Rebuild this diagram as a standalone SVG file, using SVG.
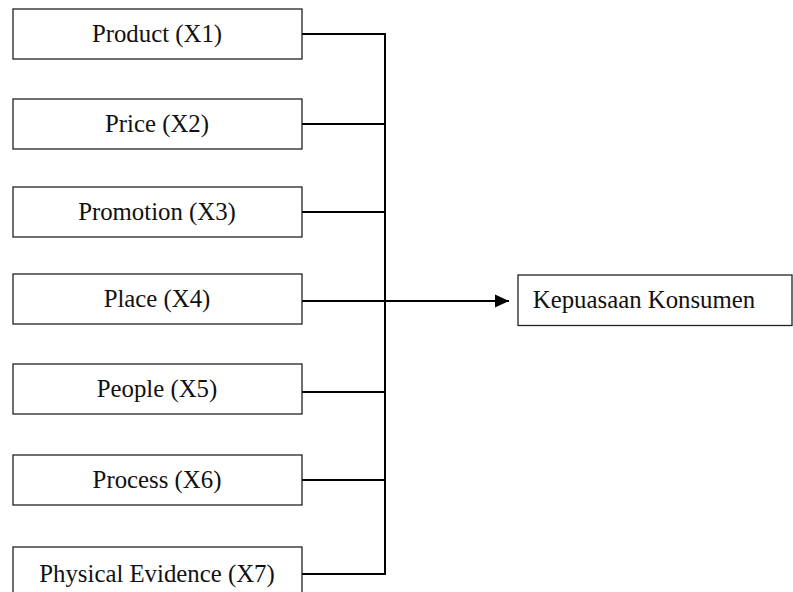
<svg xmlns="http://www.w3.org/2000/svg" width="793" height="592" viewBox="0 0 793 592">
<defs>
<style>
.box{fill:#fff;stroke:#222;stroke-width:1.3}
.lbl{font-family:"Liberation Serif","Times New Roman",serif;font-size:24.8px;fill:#111;text-anchor:middle}
.con{stroke:#000;stroke-width:2;fill:none}
</style>
<marker id="arr" markerWidth="16" markerHeight="14" refX="14" refY="7" orient="auto" markerUnits="userSpaceOnUse">
<path d="M0,0.5 L14,7 L0,13.5 Z" fill="#000"/>
</marker>
</defs>
<rect width="793" height="592" fill="#fff"/>
<g id="connectors">
<line class="con" x1="385" y1="33" x2="385" y2="575"/>
<line class="con" x1="302" y1="34" x2="386" y2="34"/>
<line class="con" x1="302" y1="124" x2="385" y2="124"/>
<line class="con" x1="302" y1="212" x2="385" y2="212"/>
<line class="con" x1="302" y1="392" x2="385" y2="392"/>
<line class="con" x1="302" y1="480" x2="385" y2="480"/>
<line class="con" x1="302" y1="574" x2="386" y2="574"/>
<line class="con" x1="302" y1="301" x2="509" y2="301" marker-end="url(#arr)"/>
</g>
<g id="n1"><rect class="box" x="13" y="9" width="289" height="50"/><text class="lbl" x="157" y="42">Product (X1)</text></g>
<g id="n2"><rect class="box" x="13" y="99" width="289" height="50"/><text class="lbl" x="157" y="132">Price (X2)</text></g>
<g id="n3"><rect class="box" x="13" y="187" width="289" height="50"/><text class="lbl" x="157" y="220">Promotion (X3)</text></g>
<g id="n4"><rect class="box" x="13" y="274" width="289" height="50"/><text class="lbl" x="157" y="307">Place (X4)</text></g>
<g id="n5"><rect class="box" x="13" y="364" width="289" height="50"/><text class="lbl" x="157" y="397">People (X5)</text></g>
<g id="n6"><rect class="box" x="13" y="455" width="289" height="50"/><text class="lbl" x="157" y="488">Process (X6)</text></g>
<g id="n7"><rect class="box" x="13" y="547" width="289" height="50"/><text class="lbl" x="157" y="582">Physical Evidence (X7)</text></g>
<g id="target"><rect class="box" x="518" y="275" width="274" height="50.5"/><text class="lbl" x="644" y="308">Kepuasaan Konsumen</text></g>
</svg>
